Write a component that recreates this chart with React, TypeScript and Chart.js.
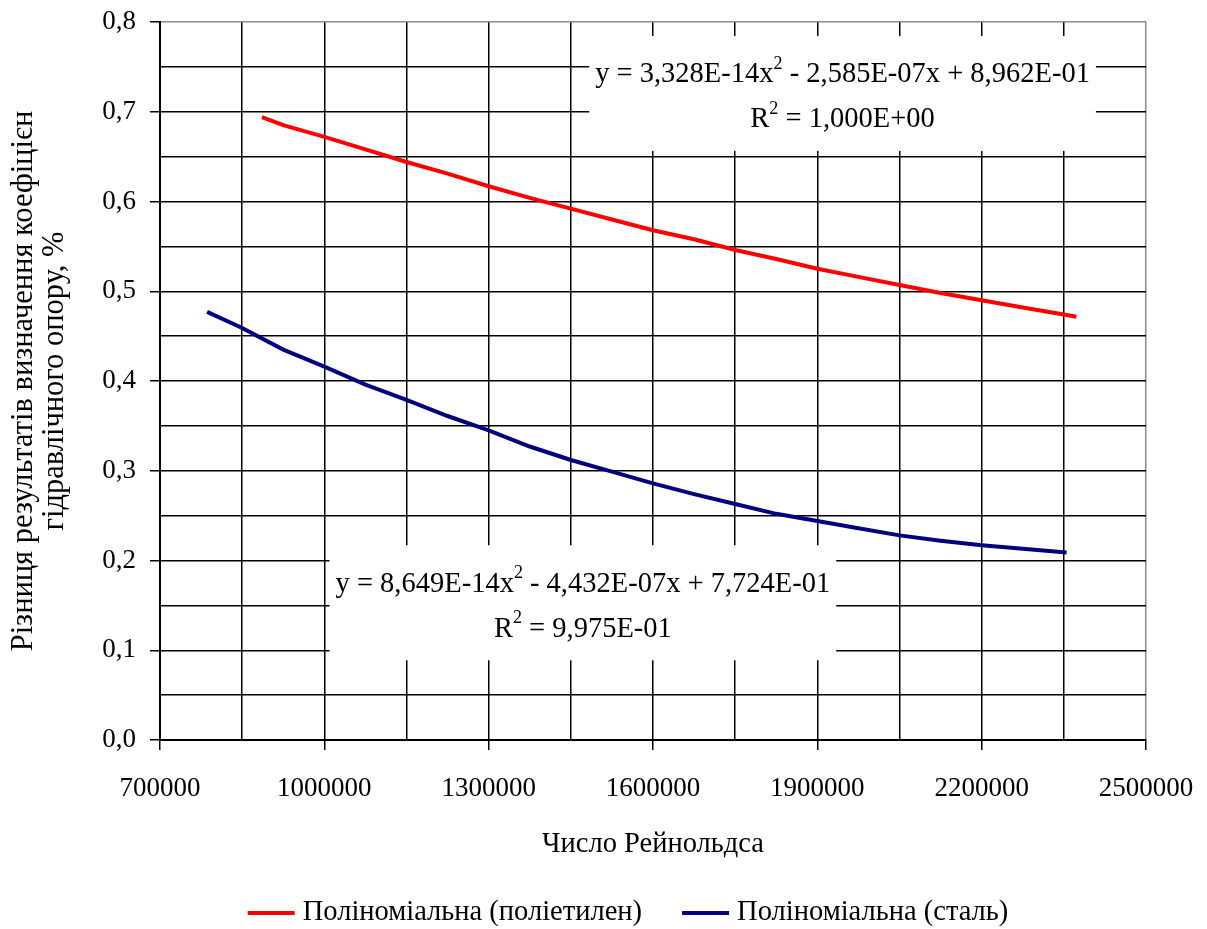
import React, { useEffect, useRef } from 'react';
import { Chart, registerables } from 'chart.js';

Chart.register(...registerables);

// Series: polyethylene (red) trendline
const redX = [886000, 925000, 1000000, 1075000, 1150000, 1225000, 1300000, 1375000, 1450000, 1525000, 1600000, 1675000, 1750000, 1825000, 1900000, 1975000, 2050000, 2125000, 2200000, 2275000, 2350000, 2373000];
const redY = [0.694, 0.685, 0.672, 0.658, 0.644, 0.631, 0.617, 0.604, 0.592, 0.580, 0.568, 0.558, 0.546, 0.536, 0.525, 0.516, 0.507, 0.498, 0.490, 0.482, 0.474, 0.4715];

// Series: steel (navy) trendline
const blueX = [786000, 850000, 925000, 1000000, 1075000, 1150000, 1225000, 1300000, 1375000, 1450000, 1525000, 1600000, 1675000, 1750000, 1825000, 1900000, 1975000, 2050000, 2125000, 2200000, 2275000, 2355000];
const blueY = [0.477, 0.459, 0.435, 0.416, 0.396, 0.379, 0.361, 0.345, 0.327, 0.312, 0.299, 0.286, 0.274, 0.263, 0.252, 0.244, 0.236, 0.228, 0.222, 0.217, 0.213, 0.209];

const seriesNames = ['Поліноміальна (поліетилен)', 'Поліноміальна (сталь)'];
const seriesColors = ['#ff0000', '#000080'];

const xTickLabels = ['700000', '1000000', '1300000', '1600000', '1900000', '2200000', '2500000'];
const yTickLabels = ['0,0', '0,1', '0,2', '0,3', '0,4', '0,5', '0,6', '0,7', '0,8'];

const xTitle = 'Число Рейнольдса';
const yTitle = ['Різниця результатів визначення коефіцієн', 'гідравлічного опору, %'];

// Trendline equation labels (parts: [text, isSuperscript])
const eqRedLine1: [string, boolean][] = [['y = 3,328E-14x', false], ['2', true], [' - 2,585E-07x + 8,962E-01', false]];
const eqRedLine2: [string, boolean][] = [['R', false], ['2', true], [' = 1,000E+00', false]];
const eqBlueLine1: [string, boolean][] = [['y = 8,649E-14x', false], ['2', true], [' - 4,432E-07x + 7,724E-01', false]];
const eqBlueLine2: [string, boolean][] = [['R', false], ['2', true], [' = 9,975E-01', false]];

const FONT = "'Liberation Serif', 'Times New Roman', serif";
const FS = 28.5;
const TICK_FS = 27;

export default function App() {
  const ref = useRef<HTMLCanvasElement>(null);

  useEffect(() => {
    if (!ref.current) return;

    const eqBoxes = [
      { cx: 1946000, y1: 0.741, lines: [eqRedLine1, eqRedLine2] },
      { cx: 1472000, y1: 0.1735, lines: [eqBlueLine1, eqBlueLine2] },
    ];

    const measureRich = (ctx: CanvasRenderingContext2D, parts: [string, boolean][]) => {
      let w = 0;
      for (const [t, sup] of parts) {
        ctx.font = `${sup ? 18 : FS}px ${FONT}`;
        w += ctx.measureText(t).width;
      }
      return w;
    };
    const drawRich = (ctx: CanvasRenderingContext2D, parts: [string, boolean][], cx: number, cy: number) => {
      const total = measureRich(ctx, parts);
      let x = cx - total / 2;
      ctx.textAlign = 'left';
      ctx.textBaseline = 'middle';
      ctx.fillStyle = '#000';
      for (const [t, sup] of parts) {
        ctx.font = `${sup ? 18 : FS}px ${FONT}`;
        ctx.fillText(t, x, sup ? cy - 11 : cy);
        x += ctx.measureText(t).width;
      }
    };

    const annotPlugin = {
      id: 'annot',
      beforeDatasetsDraw(chart: any) {
        const { ctx, scales } = chart;
        const xs = scales.x;
        const ys = scales.y;
        ctx.save();
        for (const b of eqBoxes) {
          const cx = xs.getPixelForValue(b.cx);
          const y1 = ys.getPixelForValue(b.y1);
          const lineGap = 45;
          const w = Math.max(...b.lines.map((l) => measureRich(ctx, l))) + 12;
          const top = y1 - 39;
          const bottom = y1 + lineGap + 31;
          ctx.fillStyle = '#fff';
          ctx.fillRect(cx - w / 2, top, w, bottom - top);
          b.lines.forEach((l, i) => drawRich(ctx, l, cx, y1 + i * lineGap));
        }
        ctx.restore();
      },
      afterDraw(chart: any) {
        const { ctx } = chart;
        ctx.save();
        ctx.font = `${FS}px ${FONT}`;
        const lineLen = 47;
        const gapText = 8;
        const gapItems = 40;
        const widths = seriesNames.map((n) => ctx.measureText(n).width);
        const total = widths.reduce((a, w) => a + lineLen + gapText + w, 0) + gapItems * (seriesNames.length - 1);
        let x = 628 - total / 2;
        const y = 913;
        seriesNames.forEach((n, i) => {
          ctx.strokeStyle = seriesColors[i];
          ctx.lineWidth = 4;
          ctx.beginPath();
          ctx.moveTo(x, y);
          ctx.lineTo(x + lineLen, y);
          ctx.stroke();
          x += lineLen + gapText;
          ctx.fillStyle = '#000';
          ctx.textAlign = 'left';
          ctx.textBaseline = 'middle';
          ctx.fillText(n, x, y);
          x += widths[i] + gapItems;
        });
        ctx.restore();
      },
    };

    const chart = new Chart(ref.current, {
      type: 'line',
      data: {
        datasets: [
          {
            label: seriesNames[0],
            data: redX.map((v, i) => ({ x: v, y: redY[i] })),
            borderColor: seriesColors[0],
            backgroundColor: seriesColors[0],
            borderWidth: 4,
            pointRadius: 0,
            fill: false,
          },
          {
            label: seriesNames[1],
            data: blueX.map((v, i) => ({ x: v, y: blueY[i] })),
            borderColor: seriesColors[1],
            backgroundColor: seriesColors[1],
            borderWidth: 4,
            pointRadius: 0,
            fill: false,
          },
        ],
      },
      options: {
        animation: false,
        responsive: false,
        devicePixelRatio: 1,
        layout: { padding: { left: 0, right: 61, top: 22, bottom: 0 } },
        plugins: {
          legend: { display: false },
          tooltip: { enabled: false },
        },
        scales: {
          x: {
            type: 'linear',
            min: 700000,
            max: 2500000,
            afterFit: (s: any) => {
              s.height = 189;
              s.paddingLeft = 0;
              s.paddingRight = 0;
            },
            ticks: {
              stepSize: 150000,
              autoSkip: false,
              maxRotation: 0,
              color: '#000',
              padding: 23,
              font: { family: FONT, size: TICK_FS },
              callback: (_v: any, i: number) => (i % 2 === 0 ? xTickLabels[i / 2] : ''),
            },
            grid: {
              color: (c: any) => (c.tick && c.tick.value === 2500000 ? '#8c8c8c' : '#000'),
              lineWidth: 1.5,
              tickLength: 10,
              tickColor: (c: any) => (c.index % 2 === 0 ? '#000' : 'rgba(0,0,0,0)'),
              tickWidth: 1.5,
            },
            border: { color: '#000', width: 2 },
            title: {
              display: true,
              text: xTitle,
              color: '#000',
              font: { family: FONT, size: FS, lineHeight: 1.1 },
              padding: { top: 0, bottom: 69 },
            },
          },
          y: {
            type: 'linear',
            min: 0,
            max: 0.8,
            afterFit: (s: any) => {
              s.width = 160;
              s.paddingTop = 0;
              s.paddingBottom = 0;
            },
            ticks: {
              stepSize: 0.05,
              autoSkip: false,
              color: '#000',
              padding: 14,
              font: { family: FONT, size: TICK_FS },
              callback: (_v: any, i: number) => (i % 2 === 0 ? yTickLabels[i / 2] : ''),
            },
            grid: {
              color: (c: any) => (c.tick && Math.abs(c.tick.value - 0.8) < 1e-9 ? '#8c8c8c' : '#000'),
              lineWidth: 1.5,
              tickLength: 10,
              tickColor: (c: any) => (c.index % 2 === 0 ? '#000' : 'rgba(0,0,0,0)'),
              tickWidth: 1.5,
            },
            border: { color: '#000', width: 2 },
            title: {
              display: true,
              text: yTitle,
              color: '#000',
              font: { family: FONT, size: 30.5, lineHeight: 1.02 },
              padding: { top: 8, bottom: 0 },
            },
          },
        },
      },
      plugins: [annotPlugin],
    } as any);

    return () => chart.destroy();
  }, []);

  return (
    <div style={{ position: 'fixed', left: 0, top: 0, width: 1207, height: 929, background: '#fff' }}>
      <canvas ref={ref} width={1207} height={929} style={{ width: 1207, height: 929, display: 'block' }} />
    </div>
  );
}
